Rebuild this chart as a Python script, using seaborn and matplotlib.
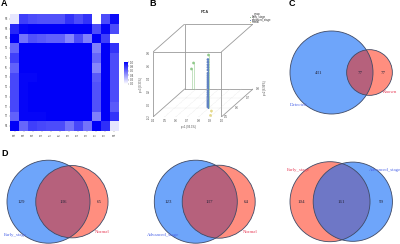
import numpy as np
import pandas as pd
import matplotlib
matplotlib.use('Agg')
import matplotlib.pyplot as plt
from matplotlib.colors import LinearSegmentedColormap
from matplotlib.patches import Circle
import seaborn as sns

# panel A
sample_labels = ['N8', 'N6', 'N5', 'T4', 'T5', 'T6', 'T3', 'T1', 'T9', 'T7', 'T2', 'N4']
corr_rows = [
    [.10, .75, .70, .68, .68, .68, .80, .70, .80, .00, .70, .95],
    [.85, .98, 1.0, 1.0, 1.0, 1.0, 1.0, 1.0, 1.0, .70, .98, .70],
    [1.0, .55, .68, .65, .62, .62, .48, .70, .50, 1.0, .75, .00],
    [.60, 1.0, 1.0, 1.0, 1.0, 1.0, 1.0, 1.0, 1.0, .50, 1.0, .80],
    [.75, 1.0, 1.0, 1.0, 1.0, 1.0, 1.0, 1.0, 1.0, .60, 1.0, .70],
    [.62, 1.0, 1.0, 1.0, 1.0, 1.0, 1.0, 1.0, 1.0, .48, 1.0, .70],
    [.72, .98, .98, 1.0, 1.0, 1.0, 1.0, 1.0, 1.0, .65, 1.0, .70],
    [.72, .98, 1.0, 1.0, 1.0, 1.0, 1.0, 1.0, 1.0, .68, 1.0, .70],
    [.72, .98, 1.0, 1.0, 1.0, 1.0, 1.0, 1.0, 1.0, .68, 1.0, .70],
    [.72, .98, 1.0, 1.0, 1.0, 1.0, 1.0, 1.0, 1.0, .68, 1.0, .65],
    [.62, .98, .98, .98, 1.0, 1.0, 1.0, 1.0, 1.0, .50, 1.0, .80],
    [1.0, .60, .75, .72, .70, .70, .55, .72, .55, 1.0, .82, .10],
]
cbar_ticks = [0.0, 0.2, 0.4, 0.6, 0.8, 1.0]

# panel B
blue_pc3 = [.54, .50, .46, .42, .38, .33, .30, .27, .24, .21, .18, .15, .12, .09, .06, .03,
            .00, -.03, -.05, -.07, -.09, -.11, -.13, -.15, -.17, -.19]
green_pc1 = [.795, .478, .46]
green_pc2 = [.60, .80, .80]
green_pc3 = [.61, .20, .108]
yellow_pc1 = [.867, .896]
yellow_pc2 = [.55, .51]
yellow_pc3 = [-.18, -.19]
x_ticks = [.4, .5, .6, .7, .8, .9, 1.0]
z_ticks = [-.2, 0.0, .2, .4, .6, .8]
d_ticks = [.5, .6, .7, .8]

# panels C and D
venn_c = (431, 77, 77)
venn_d1 = (129, 136, 65)
venn_d2 = (123, 137, 64)
venn_d3 = (104, 161, 99)

BLUE = ((14/255, 105/255, 247/255), .6)
RED = ((1.0, 30/255, 0.0), .5)
BLUE_TXT = '#4a63e8'
RED_TXT = '#e8405a'
EDGE = '#3f4a66'


def px_axes(fig, left, top, right, bottom, **kw):
    # axes placed by pixel box on the 400x244 canvas
    return fig.add_axes([left / 400, 1 - bottom / 244, (right - left) / 400, (bottom - top) / 244], **kw)


def draw_venn(ax, counts, left, cy, rmax, gap, first, second):
    only_a, both, only_b = counts
    size_a, size_b = only_a + both, only_b + both
    r1 = rmax * np.sqrt(size_a / max(size_a, size_b))
    r2 = rmax * np.sqrt(size_b / max(size_a, size_b))
    cx1 = left + r1
    cx2 = cx1 + gap
    for cx, r, style in [(cx1, r1, first), (cx2, r2, second)]:
        ax.add_patch(Circle((cx, cy), r, facecolor=style[0], alpha=style[1], edgecolor='none'))
    for cx, r in [(cx1, r1), (cx2, r2)]:
        ax.add_patch(Circle((cx, cy), r, fill=False, edgecolor=EDGE, linewidth=.6))
    a0, a1, b0, b1 = cx1 - r1, cx1 + r1, cx2 - r2, cx2 + r2
    for value, x in [(only_a, (a0 + b0) / 2), (both, (b0 + a1) / 2), (only_b, (a1 + b1) / 2)]:
        ax.text(x, cy, str(value), ha='center', va='center', fontsize=3.6,
                family='Liberation Serif', color='#26263a')


sns.set_theme(style='white')
plt.rcParams['font.family'] = ['Liberation Sans', 'DejaVu Sans']
fig = plt.figure(figsize=(4, 2.44), dpi=100)

# A: heatmap
ax_a = px_axes(fig, 10, 14, 119, 131)
ax_cb = px_axes(fig, 124, 62, 128, 84)
cmap = LinearSegmentedColormap.from_list('wb', ['#ffffff', '#0000f8'])
sns.heatmap(pd.DataFrame(corr_rows, index=sample_labels, columns=sample_labels), ax=ax_a,
            cmap=cmap, vmin=0, vmax=1, cbar_ax=ax_cb, cbar_kws={'ticks': cbar_ticks},
            xticklabels=sample_labels, yticklabels=sample_labels)
ax_a.tick_params(length=1, width=.25, labelsize=1.8, pad=.6, color='#555555', labelcolor='#444444', bottom=True, left=True)
ax_a.tick_params(axis='x', labelrotation=90)
ax_a.tick_params(axis='y', labelrotation=0)
ax_cb.tick_params(length=.8, width=.25, labelsize=2.2, pad=.5, labelcolor='#444444', right=True)

# B: oblique scatterplot3d style box
sx, sy = 32 / 69, 28 / 65
ax_b = px_axes(fig, 153, 24, 253, 117)
ax_b.set_xlim(0, 1 + sx)
ax_b.set_ylim(0, 1 + sy)
ax_b.axis('off')


def proj(pc1, pc2, pc3):
    f = (np.asarray(pc2, dtype=float) - .5) / .3
    return (np.asarray(pc1, dtype=float) - .4) / .6 + sx * f, (np.asarray(pc3, dtype=float) + .2) + sy * f


box = '#9a9a9a'
front = np.array([[0, 0], [1, 0], [1, 1], [0, 1], [0, 0]])
ax_b.plot(front[:, 0], front[:, 1], color=box, lw=.6)
ax_b.plot(front[:, 0] + sx, front[:, 1] + sy, color=box, lw=.6)
for cx, cy in front[:4]:
    ax_b.plot([cx, cx + sx], [cy, cy + sy], color=box, lw=.6)
for t in x_ticks[1:-1]:
    u0, v0 = proj(t, .5, -.2)
    u1, v1 = proj(t, .8, -.2)
    ax_b.plot([u0, u1], [v0, v1], color='#cfcfcf', lw=.3, ls=':')
for t in d_ticks[1:-1]:
    u0, v0 = proj(.4, t, -.2)
    u1, v1 = proj(1.0, t, -.2)
    ax_b.plot([u0, u1], [v0, v1], color='#cfcfcf', lw=.3, ls=':')

points = pd.DataFrame({
    'pc1': [.79] * len(blue_pc3) + green_pc1 + yellow_pc1,
    'pc2': [.60] * len(blue_pc3) + green_pc2 + yellow_pc2,
    'pc3': blue_pc3 + green_pc3 + yellow_pc3,
    'group': ['advanced_stage'] * len(blue_pc3) + ['Early_stage'] * len(green_pc1) + ['normal'] * len(yellow_pc1),
})
points['u'], points['v'] = proj(points['pc1'], points['pc2'], points['pc3'])
palette = {'advanced_stage': '#5f82c2', 'Early_stage': '#8fc98a', 'normal': '#e5d98a'}
for _, row in points.iterrows():
    u0, v0 = proj(row['pc1'], row['pc2'], -.2)
    ax_b.plot([u0, row['u']], [v0, row['v']], color=palette[row['group']], lw=.5, alpha=.75)
sns.scatterplot(data=points, x='u', y='v', hue='group', palette=palette, s=4, linewidth=0,
                legend=False, ax=ax_b, clip_on=False)
ax_b.set_xlabel('')
ax_b.set_ylabel('')

# overlay in pixel coordinates for venns and labels
ov = fig.add_axes([0, 0, 1, 1], facecolor='none')
ov.set_xlim(0, 400)
ov.set_ylim(244, 0)
ov.axis('off')

for t in x_ticks:
    u, _ = proj(t, .5, -.2)
    ov.text(153 + u / (1 + sx) * 100, 121, f'{t:.1f}', fontsize=2, ha='center', va='center', color='#444444')
for t in z_ticks:
    _, v = proj(.4, .5, t)
    ov.text(149, 117 - v / (1 + sy) * 93, f'{t:.1f}', fontsize=2, ha='center', va='center',
            rotation=90, color='#444444')
for t in d_ticks:
    u, v = proj(1.0, t, -.2)
    ov.text(153 + u / (1 + sx) * 100 + 5, 117 - v / (1 + sy) * 93, f'{t:.1f}', fontsize=2,
            ha='center', va='center', color='#444444')
ov.text(205, 12, 'PCA', fontsize=2.8, ha='center', va='center', fontweight='bold', color='#333333')
ov.text(188, 127, 'pc1 (93.3%)', fontsize=2, ha='center', va='center', color='#444444')
ov.text(141, 85, 'pc3 (0.33%)', fontsize=2, ha='center', va='center', rotation=90, color='#444444')
ov.text(265, 88, 'pc2 (6.96%)', fontsize=2, ha='center', va='center', rotation=90, color='#444444')
ov.text(257, 14, 'group', fontsize=1.9, ha='center', va='center', color='#333333')
for y, name in zip([17, 19.5, 22], ['Early_stage', 'advanced_stage', 'normal']):
    ov.scatter([250], [y], s=.5, color=palette[name], linewidths=0)
    ov.text(252, y, name, fontsize=1.9, ha='left', va='center', color='#333333')

# C and D venns
draw_venn(ov, venn_c, 290, 72.5, 41.5, 38, BLUE, RED)
draw_venn(ov, venn_d1, 7, 201.7, 41.5, 23.4, BLUE, RED)
draw_venn(ov, venn_d2, 154.3, 201.7, 41.5, 22.9, BLUE, RED)
draw_venn(ov, venn_d3, 290, 201.7, 40, 22.8, RED, BLUE)

for x, y, name, col in [(290, 105, 'Detected', BLUE_TXT), (383, 92, 'Known', RED_TXT),
                        (4, 235, 'Early_stage', BLUE_TXT), (95, 232, 'Normal', RED_TXT),
                        (147, 235, 'Advanced_stage', BLUE_TXT), (243, 232, 'Normal', RED_TXT),
                        (287, 170, 'Early_stage', RED_TXT), (369, 170, 'Advanced_stage', BLUE_TXT)]:
    ov.text(x, y, name, fontsize=3.5, family='Liberation Serif', color=col, ha='left', va='center')

for x, y, letter in [(1, 4, 'A'), (149, 4, 'B'), (289, 4, 'C'), (1, 154, 'D')]:
    ov.text(x, y, letter, fontsize=6.5, fontweight='bold', color='black', ha='left', va='center')

fig.savefig('out.png', dpi=100)
